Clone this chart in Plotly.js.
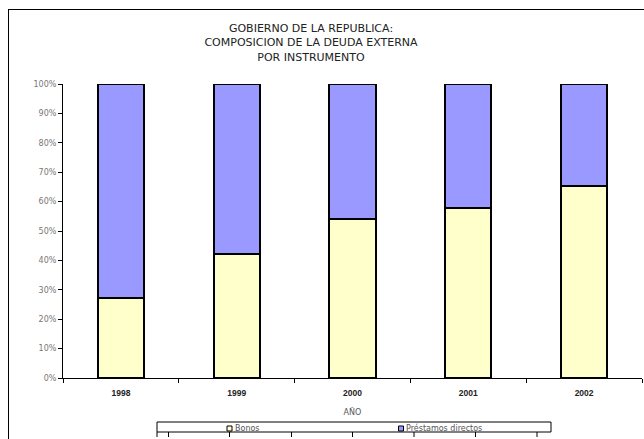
<!DOCTYPE html>
<html>
<head>
<meta charset="utf-8">
<script src="https://cdn.plot.ly/plotly-3.0.1.min.js"></script>
<style>
html,body{margin:0;padding:0;background:#fff;}
#wrap{position:relative;width:644px;height:439px;overflow:hidden;}
#chart{width:644px;height:439px;}
#frame{position:absolute;left:8px;top:9px;width:700px;height:500px;border-top:1px solid #000;border-left:1px solid #000;pointer-events:none;}
</style>
</head>
<body>
<div id="wrap"><div id="chart"></div><div id="frame"></div></div>
<script>
const years = ['1998', '1999', '2000', '2001', '2002'];
const bonos = [27.3, 42.2, 54.1, 57.9, 65.4];
const prestamos = [72.7, 57.8, 45.9, 42.1, 34.6];
const seriesNames = ['Bonos', 'Préstamos directos'];
const seriesColors = ['#FFFFCC', '#9999FF'];
const yTickVals = [0, 10, 20, 30, 40, 50, 60, 70, 80, 90, 100];
const yTickText = ['0%', '10%', '20%', '30%', '40%', '50%', '60%', '70%', '80%', '90%', '100%'];

const W = 644, H = 439;
const mL = 63, mR = 2, mT = 84, mB = 61;
const pw = W - mL - mR, ph = H - mT - mB;
const px = x => (x - mL) / pw;
const py = y => (H - mB - y) / ph;

const traces = [
  {type: 'bar', name: seriesNames[0], x: years, y: bonos, showlegend: false,
   marker: {color: seriesColors[0], line: {color: '#000', width: 2}}},
  {type: 'bar', name: seriesNames[1], x: years, y: prestamos, showlegend: false,
   marker: {color: seriesColors[1], line: {color: '#000', width: 2}}}
];

// Manual legend (box, swatches, labels)
const legendShapes = [
  {type: 'rect', xref: 'paper', yref: 'paper', x0: px(157), x1: px(551), y0: py(432), y1: py(422),
   line: {color: '#000', width: 1}, fillcolor: '#fff'},
  {type: 'rect', xref: 'paper', yref: 'paper', x0: px(227), x1: px(232), y0: py(431), y1: py(426),
   line: {color: '#000', width: 1}, fillcolor: seriesColors[0]},
  {type: 'rect', xref: 'paper', yref: 'paper', x0: px(398.5), x1: px(403.5), y0: py(431), y1: py(426),
   line: {color: '#000', width: 1}, fillcolor: seriesColors[1]}
];
const tickXs = [157, 168.5, 229.5, 291.5, 352.5, 414, 475.5, 537];
tickXs.forEach(x => legendShapes.push({type: 'line', xref: 'paper', yref: 'paper',
  x0: px(x), x1: px(x), y0: py(432), y1: py(437), line: {color: '#000', width: 1}}));

const layout = {
  width: W, height: H,
  margin: {l: mL, r: mR, t: mT, b: mB, pad: 0, autoexpand: false},
  paper_bgcolor: '#fff', plot_bgcolor: '#fff',
  barmode: 'stack', bargap: 0.6,
  font: {family: 'DejaVu Sans, Verdana, sans-serif', color: '#333'},
  title: {
    text: 'GOBIERNO DE LA REPUBLICA:<br>COMPOSICION DE LA DEUDA EXTERNA<br>POR INSTRUMENTO',
    font: {size: 11, color: '#222'}, x: 311 / W, xanchor: 'center', xref: 'container',
    y: 1 - 32 / H, yanchor: 'top', yref: 'container'
  },
  xaxis: {
    type: 'category', showline: true, linecolor: '#000', linewidth: 1,
    ticks: 'outside', tickson: 'boundaries', ticklen: 4, tickcolor: '#000',
    ticklabelstandoff: 7,
    tickfont: {size: 8.5, color: '#222', weight: 'bold', family: 'Liberation Sans, Arial, sans-serif'},
    showgrid: false, zeroline: false,
    title: {text: 'AÑO', font: {size: 8, color: '#555'}, standoff: 12}
  },
  yaxis: {
    range: [0, 100], tickvals: yTickVals, ticktext: yTickText,
    showline: true, linecolor: '#000', linewidth: 1,
    ticks: 'outside', ticklen: 4, tickcolor: '#000',
    tickfont: {size: 8, color: '#777'}, showgrid: false, zeroline: false
  },
  showlegend: false,
  annotations: [
    {xref: 'paper', yref: 'paper', x: px(233), y: py(428.3), xanchor: 'left', yanchor: 'middle',
     text: seriesNames[0], showarrow: false, font: {size: 8, color: '#555'}},
    {xref: 'paper', yref: 'paper', x: px(404), y: py(428.3), xanchor: 'left', yanchor: 'middle',
     text: seriesNames[1], showarrow: false, font: {size: 8, color: '#555'}}
  ],
  shapes: legendShapes
};

Plotly.newPlot('chart', traces, layout, {displayModeBar: false, staticPlot: true});
</script>
</body>
</html>
